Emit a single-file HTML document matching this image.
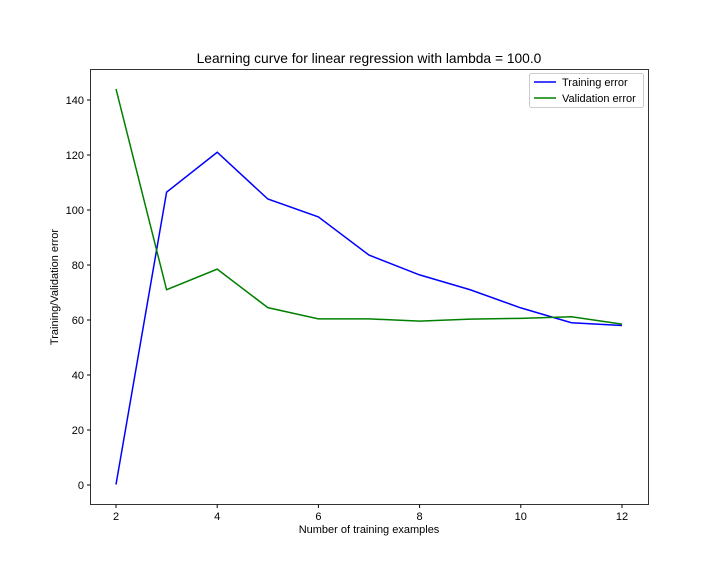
<!DOCTYPE html>
<html><head><meta charset="utf-8"><style>
body{margin:0;background:#fff;}
svg text{font-family:"Liberation Sans","DejaVu Sans",sans-serif;fill:#000;}
</style></head><body>
<svg id="chart" width="720" height="576" xmlns="http://www.w3.org/2000/svg">
<rect width="720" height="576" fill="#fff"/>
<text x="369" y="63" font-size="13.8" text-anchor="middle">Learning curve for linear regression with lambda = 100.0</text>
<text x="369" y="533" font-size="11" text-anchor="middle">Number of training examples</text>
<text transform="translate(58,287) rotate(-90)" font-size="11" text-anchor="middle">Training/Validation error</text>
<g id="ticks"></g>
<g id="series"></g>
<rect x="90.5" y="69.5" width="558" height="435" fill="none" stroke="#000" stroke-width="0.8"/>
<g>
<rect x="529.5" y="73.5" width="114" height="34" rx="2" fill="#fff" stroke="#ccc"/>
<line x1="534" y1="82" x2="556" y2="82" stroke="#0000ff" stroke-width="1.5"/>
<text x="562" y="86" font-size="11">Training error</text>
<line x1="534" y1="98" x2="556" y2="98" stroke="#008000" stroke-width="1.5"/>
<text x="562" y="102" font-size="11">Validation error</text>
</g>
</svg>
<script>
const xValues=[2,3,4,5,6,7,8,9,10,11,12];
const trainErr=[0.2,106.5,121,104,97.5,83.6,76.4,71,64.4,59,58];
const valErr=[144,71,78.5,64.5,60.4,60.4,59.6,60.3,60.6,61.2,58.5];
const xTicks=[2,4,6,8,10,12];
const yTicks=[0,20,40,60,80,100,120,140];
function xs(v){return 116+(v-2)*50.6;}
function ys(v){return 485-v*2.75;}
const NS="http://www.w3.org/2000/svg";
const tg=document.getElementById('ticks');
xTicks.forEach(t=>{
 const l=document.createElementNS(NS,'line');
 l.setAttribute('x1',xs(t));l.setAttribute('x2',xs(t));l.setAttribute('y1',504.5);l.setAttribute('y2',508);l.setAttribute('stroke','#000');
 
 
 tg.appendChild(l);
 const tx=document.createElementNS(NS,'text');
 tx.setAttribute('x',xs(t));tx.setAttribute('y',520);tx.setAttribute('font-size','11');tx.setAttribute('text-anchor','middle');tx.textContent=t;
 
 
 tg.appendChild(tx);
});
yTicks.forEach(t=>{
 const l=document.createElementNS(NS,'line');
 l.setAttribute('x1',87);l.setAttribute('x2',90.5);l.setAttribute('y1',ys(t));l.setAttribute('y2',ys(t));l.setAttribute('stroke','#000');
 
 
 tg.appendChild(l);
 const tx=document.createElementNS(NS,'text');
 tx.setAttribute('x',84);tx.setAttribute('y',ys(t)+4);tx.setAttribute('font-size','11');tx.setAttribute('text-anchor','end');tx.textContent=t;
 
 
 tg.appendChild(tx);
});
const sg=document.getElementById('series');
function line(vals,color,name){
 const p=document.createElementNS(NS,'polyline');
 p.setAttribute('points',vals.map((v,i)=>xs(xValues[i])+','+ys(v)).join(' '));
 p.setAttribute('fill','none');p.setAttribute('stroke',color);p.setAttribute('stroke-width','1.5');
 
 
 sg.appendChild(p);
}
line(trainErr,'#0000ff','training-error-line');
line(valErr,'#008000','validation-error-line');
</script>
</body></html>
